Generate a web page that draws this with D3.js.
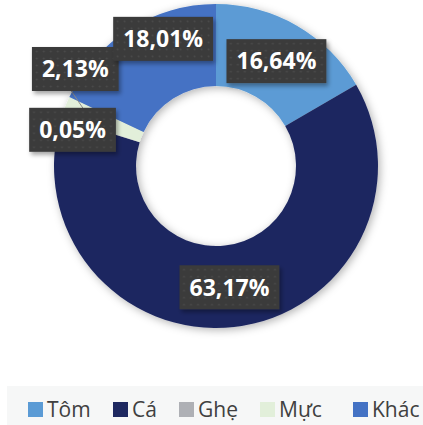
<!DOCTYPE html>
<html>
<head>
<meta charset="utf-8">
<script src="https://cdn.jsdelivr.net/npm/d3@7"></script>
<style>
  body { margin: 0; background: #fff; }
  svg { display: block; font-family: "Open Sans", sans-serif; }
</style>
</head>
<body>
<div id="chart"></div>
<script>
// data
var categories = ["Tôm", "Cá", "Ghẹ", "Mực", "Khác"];
var values = [16.64, 63.17, 0.05, 2.13, 18.01];
var labels = ["16,64%", "63,17%", "0,05%", "2,13%", "18,01%"];
var colors = ["#5b9bd5", "#1e2860", "#aeb0b5", "#e2efda", "#4472c4"];

var width = 423, height = 425;
var cx = 216, cy = 166, outerR = 162, innerR = 80;

// label nudges from the slice centroid (hand placed in the original)
var nudge = [[0, 0], [0, 1], [-28, 0], [-28, -53], [12, -25]];

var svg = d3.select("#chart").append("svg")
  .attr("width", width)
  .attr("height", height);

var defs = svg.append("defs");

var shadow = defs.append("filter").attr("id", "ringShadow")
  .attr("x", "-20%").attr("y", "-20%").attr("width", "140%").attr("height", "140%");
shadow.append("feDropShadow")
  .attr("dx", 2).attr("dy", 2).attr("stdDeviation", 4)
  .attr("flood-color", "#000").attr("flood-opacity", 0.3);

var boxShadow = defs.append("filter").attr("id", "boxShadow")
  .attr("x", "-20%").attr("y", "-30%").attr("width", "140%").attr("height", "160%");
boxShadow.append("feDropShadow")
  .attr("dx", 2).attr("dy", 3).attr("stdDeviation", 2)
  .attr("flood-color", "#000").attr("flood-opacity", 0.35);

// dotted dark fill for label boxes
var pat = defs.append("pattern").attr("id", "dots")
  .attr("width", 7).attr("height", 7).attr("patternUnits", "userSpaceOnUse");
pat.append("rect").attr("width", 7).attr("height", 7).attr("fill", "#3a3a3a");
pat.append("circle").attr("cx", 3.5).attr("cy", 3.5).attr("r", 1.1).attr("fill", "#4a4a4a");

var data = categories.map(function(c, i) {
  return { name: c, value: values[i], label: labels[i], color: colors[i], nudge: nudge[i] };
});

var pie = d3.pie().sort(null).value(function(d) { return d.value; });
var arc = d3.arc().innerRadius(innerR).outerRadius(outerR);
var midArc = d3.arc().innerRadius((innerR + outerR) / 2).outerRadius((innerR + outerR) / 2);

var g = svg.append("g").attr("transform", "translate(" + cx + "," + cy + ")");

g.append("g").attr("filter", "url(#ringShadow)")
  .selectAll("path")
  .data(pie(data))
  .join("path")
    .attr("d", arc)
    .attr("fill", function(d) { return d.data.color; });

// labels
var arcs = pie(data);
arcs.forEach(function(a) {
  var c = midArc.centroid(a);
  var x = c[0] + a.data.nudge[0], y = c[1] + a.data.nudge[1];
  var lg = g.append("g").attr("transform", "translate(" + x + "," + y + ")");

  // leader line for the nudged small slice
  if (a.data.name === "Mực") {
    var outerPt = d3.arc().innerRadius(outerR - 25).outerRadius(outerR - 25).centroid(a);
    g.insert("line", null)
      .attr("x1", outerPt[0]).attr("y1", outerPt[1])
      .attr("x2", x - 4).attr("y2", y + 22)
      .attr("stroke", "#8c8c8c").attr("stroke-width", 1);
  }

  var t = lg.append("text")
    .attr("text-anchor", "middle")
    .attr("dy", "0.36em")
    .attr("fill", "#fff")
    .attr("font-weight", 700)
    .attr("font-size", 23)
    .text(a.data.label);
  var bw = t.node().getComputedTextLength() + 20;
  lg.insert("rect", "text")
    .attr("x", -bw / 2).attr("y", -22)
    .attr("width", bw).attr("height", 44)
    .attr("fill", "url(#dots)")
    .attr("filter", "url(#boxShadow)");
});

// make sure leader line sits above the ring
g.selectAll("line").raise();
g.selectAll("g").filter(function() { return this.querySelector("text"); }).raise();

// legend
var legendY = 386;
svg.append("rect")
  .attr("x", 7).attr("y", legendY)
  .attr("width", width - 7).attr("height", 39)
  .attr("fill", "#f6f7f7");

var legendX = [28, 113, 179, 260, 353];
var leg = svg.selectAll(".leg")
  .data(data)
  .join("g")
    .attr("class", "leg")
    .attr("transform", function(d, i) { return "translate(" + legendX[i] + "," + (legendY + 16) + ")"; });

leg.append("rect")
  .attr("width", 15).attr("height", 15)
  .attr("fill", function(d) { return d.color; });

leg.append("text")
  .attr("x", 19).attr("y", 7.5)
  .attr("dy", "0.36em")
  .attr("font-size", 21)
  .attr("fill", "#404040")
  .text(function(d) { return d.name; });
</script>
</body>
</html>
